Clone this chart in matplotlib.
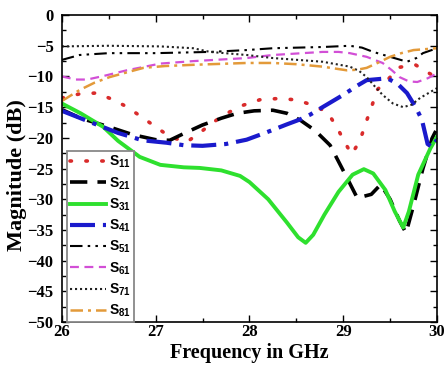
import matplotlib
matplotlib.use("Agg")
import matplotlib.pyplot as plt
from matplotlib.ticker import MultipleLocator

# S-parameter magnitudes (dB) vs frequency (GHz)
f11 = [26.0, 26.2, 26.37, 26.55, 26.7, 26.85, 27.0, 27.15, 27.33, 27.47, 27.6, 27.76, 27.93, 28.11,
       28.3, 28.5, 28.68, 28.83, 28.93, 29.02, 29.09, 29.18, 29.24, 29.3, 29.36, 29.47, 29.6, 29.77,
       29.93, 30.0]
s11 = [-13.5, -12.8, -12.7, -13.8, -15.0, -16.6, -18.2, -19.8, -20.7, -19.2, -17.6, -16.0, -14.7, -13.8,
       -13.6, -13.8, -14.7, -15.8, -18.2, -20.8, -22.7, -20.4, -17.6, -15.1, -12.2, -10.6, -8.5, -8.1,
       -9.6, -9.8]

f21 = [26.0, 26.2, 26.48, 26.76, 27.0, 27.15, 27.3, 27.5, 27.7, 27.87, 28.05, 28.25, 28.4, 28.55,
       28.7, 28.86, 29.04, 29.15, 29.3, 29.4, 29.5, 29.6, 29.67, 29.75, 29.85, 29.95, 30.0]
s21 = [-15.4, -16.8, -18.1, -19.5, -20.3, -20.4, -19.3, -17.9, -16.8, -16.0, -15.6, -15.5, -16.0, -17.2,
       -18.8, -21.2, -26.5, -29.8, -29.2, -27.6, -30.0, -33.5, -35.5, -31.0, -25.0, -20.0, -18.5]

f31 = [26.0, 26.2, 26.44, 26.6, 26.83, 27.05, 27.3, 27.47, 27.7, 27.9, 28.0, 28.2, 28.4, 28.52,
       28.6, 28.68, 28.8, 28.95, 29.1, 29.22, 29.32, 29.45, 29.55, 29.64, 29.7, 29.8, 29.93, 30.0]
s31 = [-14.4, -16.0, -18.2, -20.5, -23.1, -24.4, -24.8, -24.9, -25.3, -26.2, -27.2, -30.0, -33.8, -36.2,
       -37.1, -35.8, -32.5, -28.8, -26.0, -25.1, -25.8, -28.5, -32.0, -34.6, -32.0, -26.0, -21.7, -19.8]

f41 = [26.0, 26.15, 26.33, 26.6, 26.86, 27.12, 27.3, 27.5, 27.75, 27.97, 28.2, 28.4, 28.54, 28.65,
       28.78, 29.0, 29.15, 29.25, 29.47, 29.58, 29.68, 29.78, 29.84, 29.9, 29.95, 30.0]
s41 = [-15.6, -16.5, -17.6, -19.2, -20.4, -20.8, -21.2, -21.3, -21.0, -20.3, -19.0, -17.8, -17.0, -16.2,
       -15.0, -13.0, -11.5, -10.6, -10.3, -11.2, -12.7, -15.2, -17.1, -21.0, -21.5, -20.3]

f51 = [26.0, 26.19, 26.5, 27.0, 27.58, 27.97, 28.25, 28.78, 29.07, 29.2, 29.32, 29.5, 29.68, 29.78,
       29.85, 30.0]
s51 = [-7.3, -6.5, -6.2, -6.2, -6.0, -5.7, -5.4, -5.2, -5.0, -5.3, -6.0, -6.8, -7.6, -7.0,
       -6.2, -5.4]

f61 = [26.0, 26.15, 26.27, 26.45, 26.69, 27.05, 27.4, 27.97, 28.25, 28.78, 28.95, 29.07, 29.25, 29.42,
       29.52, 29.6, 29.7, 29.79, 29.9, 30.0]
s61 = [-10.0, -10.5, -10.5, -9.9, -9.0, -7.9, -7.5, -7.0, -6.5, -6.0, -6.0, -6.2, -6.8, -7.8,
       -9.0, -10.1, -10.8, -10.9, -10.3, -9.5]

f71 = [26.0, 26.5, 27.05, 27.4, 27.58, 27.97, 28.25, 28.78, 29.07, 29.17, 29.25, 29.33, 29.42, 29.53,
       29.64, 29.73, 29.82, 30.0]
s71 = [-5.1, -5.0, -5.1, -5.4, -6.0, -6.5, -7.0, -7.6, -8.4, -9.1, -10.1, -11.5, -13.0, -14.4,
       -15.0, -14.6, -13.5, -11.9]

f81 = [26.0, 26.19, 26.35, 26.51, 26.7, 26.87, 27.1, 27.4, 27.97, 28.25, 28.5, 28.78, 29.04, 29.15,
       29.25, 29.38, 29.5, 29.62, 29.75, 30.0]
s81 = [-14.0, -12.2, -11.0, -10.1, -9.3, -8.6, -8.3, -8.1, -7.8, -7.8, -8.0, -8.4, -9.0, -8.9,
       -8.6, -7.7, -6.8, -6.2, -5.7, -5.4]

plt.rcParams["mathtext.fontset"] = "custom"
plt.rcParams["mathtext.bf"] = "Liberation Sans:bold"

fig = plt.figure(figsize=(4.45, 3.68), dpi=100)
ax = fig.add_axes([0.139, 0.125, 0.843, 0.834])

ax.plot(f11, s11, color="#d92b2b", lw=2.6, dashes=(0.4, 4.0), dash_capstyle="round", label=r"$\mathbf{S_{11}}$")
ax.plot(f21, s21, color="black", lw=2.6, dashes=(4.8, 2.8), label=r"$\mathbf{S_{21}}$")
ax.plot(f31, s31, color="#2ee02e", lw=2.8, label=r"$\mathbf{S_{31}}$")
ax.plot(f41, s41, color="#1a1acc", lw=3.0, dashes=(6, 1.9, 1, 1.9), label=r"$\mathbf{S_{41}}$")
ax.plot(f51, s51, color="black", lw=1.5, dashes=(6, 2.5, 1.2, 2.5, 1.2, 2.5), label=r"$\mathbf{S_{51}}$")
ax.plot(f61, s61, color="#d24fd6", lw=1.6, dashes=(4, 2.5), label=r"$\mathbf{S_{61}}$")
ax.plot(f71, s71, color="#222222", lw=1.5, dashes=(1, 1.4), label=r"$\mathbf{S_{71}}$")
ax.plot(f81, s81, color="#e39a3a", lw=1.8, dashes=(5, 2, 1.2, 2), label=r"$\mathbf{S_{81}}$")

ax.set_xlim(26, 30)
ax.set_ylim(-50, 0)
ax.xaxis.set_major_locator(MultipleLocator(1))
ax.xaxis.set_minor_locator(MultipleLocator(0.5))
ax.yaxis.set_major_locator(MultipleLocator(5))
ax.yaxis.set_minor_locator(MultipleLocator(2.5))
ax.tick_params(which="both", direction="in", top=True, right=True, width=1.0)
ax.tick_params(which="major", length=5)
ax.tick_params(which="minor", length=3)
for sp in ax.spines.values():
    sp.set_linewidth(1.2)

serif = ["Liberation Serif", "DejaVu Serif"]
for lab in ax.get_xticklabels() + ax.get_yticklabels():
    lab.set_family(serif)
    lab.set_fontweight("bold")
    lab.set_fontsize(12)
ax.tick_params(axis="x", pad=1.5)
ax.tick_params(axis="y", pad=6)

ax.set_xlabel("Frequency in GHz", family=serif, fontweight="bold", fontsize=14.5, labelpad=2)
ax.set_ylabel("Magnitude (dB)", family=serif, fontweight="bold", fontsize=16)
ax.yaxis.set_label_coords(-0.093, 0.479)

leg = ax.legend(loc="lower left", bbox_to_anchor=(0.013, 0.0), borderaxespad=0,
                handlelength=2.65, handletextpad=0.2, labelspacing=0.35, borderpad=0.2,
                fancybox=False, framealpha=1, edgecolor="#888888",
                prop={"family": "Liberation Sans", "weight": "bold", "size": 10})
leg.get_frame().set_linewidth(1.3)

fig.savefig("out.png", dpi=100)
